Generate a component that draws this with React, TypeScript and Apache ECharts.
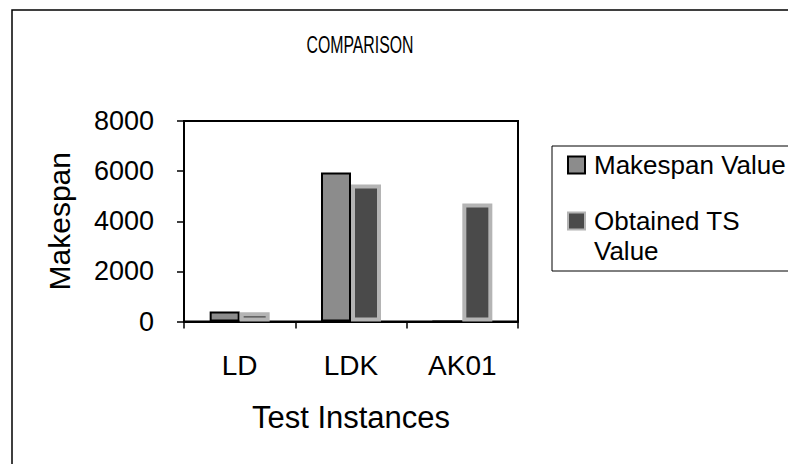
import React, { useEffect, useRef } from "react";
import * as echarts from "echarts";

const categories = ["LD", "LDK", "AK01"];
const makespanValues = [400, 5950, 0];
const obtainedValues = [370, 5470, 4710];
const seriesNames = ["Makespan Value", "Obtained TS Value"];
const titleText = "COMPARISON";
const xAxisTitle = "Test Instances";
const yAxisTitle = "Makespan";

const FONT = "'Liberation Sans', Arial, sans-serif";

export default function App() {
  const ref = useRef<HTMLDivElement>(null);
  useEffect(() => {
    if (!ref.current) return;
    const chart = echarts.init(ref.current, null, { renderer: "svg" });
    chart.setOption({
      animation: false,
      backgroundColor: "#ffffff",
      textStyle: { fontFamily: FONT },
      graphic: [
        {
          type: "rect",
          shape: { x: 12, y: 10, width: 800, height: 480 },
          style: { fill: "none", stroke: "#000", lineWidth: 1.5 },
          silent: true,
          z: -1,
        },
        {
          type: "text",
          x: 360,
          y: 45,
          scaleX: 0.66,
          style: {
            text: titleText,
            fontSize: 24,
            fontFamily: FONT,
            fill: "#000",
            textAlign: "center",
            textVerticalAlign: "middle",
          },
          silent: true,
        },
      ],
      grid: {
        left: 184,
        right: 270,
        top: 121,
        bottom: 142.5,
        show: true,
        borderColor: "#000",
        borderWidth: 2,
        backgroundColor: "transparent",
      },
      legend: {
        orient: "vertical",
        left: 552,
        top: 146,
        padding: [4, 20, 5, 15],
        itemGap: -4,
        itemWidth: 17,
        itemHeight: 17,
        borderColor: "#000",
        borderWidth: 1,
        backgroundColor: "#fff",
        textStyle: { fontSize: 26, lineHeight: 30, color: "#000", fontFamily: FONT, padding: [0, 0, 0, 4] },
        formatter: (name: string) => (name === seriesNames[1] ? "\nObtained TS\nValue" : name),
        data: [
          {
            name: seriesNames[0],
            icon: "rect",
            itemStyle: { color: "#8c8c8c", borderColor: "#000", borderWidth: 2 },
          },
          {
            name: seriesNames[1],
            icon: "rect",
            itemStyle: { color: "#4a4a4a", borderColor: "#b4b4b4", borderWidth: 2 },
          },
        ],
      },
      xAxis: {
        type: "category",
        data: categories,
        name: xAxisTitle,
        nameLocation: "middle",
        nameGap: 80,
        nameTextStyle: { fontSize: 31, color: "#000", fontFamily: FONT },
        axisLine: { show: true, lineStyle: { color: "#000", width: 2 } },
        axisTick: { show: true, length: 7, lineStyle: { color: "#000", width: 1.5 } },
        axisLabel: { fontSize: 28, color: "#000", margin: 30, fontFamily: FONT },
        splitLine: { show: false },
      },
      yAxis: {
        type: "value",
        min: 0,
        max: 8000,
        interval: 2000,
        name: yAxisTitle,
        nameLocation: "middle",
        nameGap: 110,
        nameTextStyle: { fontSize: 30, color: "#000", fontFamily: FONT },
        axisLine: { show: true, lineStyle: { color: "#000", width: 2 } },
        axisTick: { show: true, length: 7, lineStyle: { color: "#000", width: 1.5 } },
        axisLabel: {
          fontSize: 27,
          color: "#000",
          margin: 30,
          fontFamily: FONT,
          formatter: (v: number) => String(v),
        },
        splitLine: { show: false },
      },
      series: [
        {
          name: seriesNames[0],
          type: "bar",
          data: makespanValues,
          barWidth: 30,
          barGap: "0%",
          itemStyle: { color: "#8c8c8c", borderColor: "#000", borderWidth: 2 },
        },
        {
          name: seriesNames[1],
          type: "bar",
          data: obtainedValues,
          barWidth: 30,
          barGap: "0%",
          itemStyle: { color: "#4a4a4a", borderColor: "#b4b4b4", borderWidth: 4 },
        },
      ],
    });
    return () => chart.dispose();
  }, []);
  return (
    <div
      ref={ref}
      style={{ position: "fixed", left: 0, top: 0, width: 788, height: 464, background: "#fff" }}
    />
  );
}
